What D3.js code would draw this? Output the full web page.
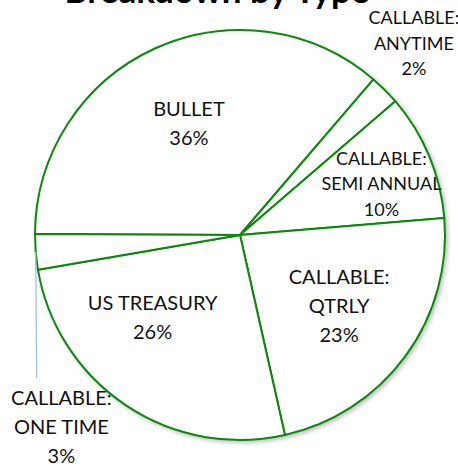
<!DOCTYPE html>
<html>
  <head>
    <meta charset="utf-8">
    <title>Breakdown by Type</title>
    <script src="https://cdn.jsdelivr.net/npm/d3@7"></script>
    <style>
      body { margin: 0; background: #fff; }
      svg { display: block; font-family: Lato, "Open Sans", sans-serif; }
      .label { font-size: 20px; fill: #111; }
      .label.small { font-size: 18px; }
      .title { font-size: 35px; font-weight: bold; fill: #000; }
    </style>
  </head>

  <body>
    <svg id="chart" width="458" height="468"></svg>

    <script>
      // data (share of holdings, %)
      categories = ["BULLET", "CALLABLE: ANYTIME", "CALLABLE: SEMI ANNUAL", "CALLABLE: QTRLY", "US TREASURY", "CALLABLE: ONE TIME"];
      shares = [36.2, 2.4, 10.0, 22.8, 25.8, 2.8];
      labelLines = [
        ["BULLET"],
        ["CALLABLE:", "ANYTIME"],
        ["CALLABLE:", "SEMI ANNUAL"],
        ["CALLABLE:", "QTRLY"],
        ["US TREASURY"],
        ["CALLABLE:", "ONE TIME"]
      ];

      // label layout: nudge from centroid, small font?
      labelNudge = [[0, 0], [87, -105], [28, -4], [0, -2], [-19, -20], [-56, 182]];
      labelSmall = [false, true, true, false, false, false];

      width = 458;
      height = 468;
      radius = 205;
      cx = 240;
      cy = 235;

      svg = d3.select("#chart");

      defs = svg.append("defs");
      shadow = defs.append("filter")
        .attr("id", "shadow")
        .attr("x", "-10%").attr("y", "-10%")
        .attr("width", "120%").attr("height", "120%");
      shadow.append("feDropShadow")
        .attr("dx", 2)
        .attr("dy", 2)
        .attr("stdDeviation", 2)
        .attr("flood-color", "#000")
        .attr("flood-opacity", 0.25);

      // title (mostly cropped off the top, as in the original)
      svg.append("text")
        .attr("class", "title")
        .attr("x", 217)
        .attr("y", 3)
        .attr("text-anchor", "middle")
        .text("Breakdown by Type");

      total = d3.sum(shares);
      pie = d3.pie()
        .sort(null)
        .value(function(d) { return d; })
        .startAngle(-89.7 * Math.PI / 180)
        .endAngle(270.3 * Math.PI / 180);

      arcs = pie(shares);

      arc = d3.arc()
        .innerRadius(0)
        .outerRadius(radius);

      labelArc = d3.arc()
        .innerRadius(radius * 0.6)
        .outerRadius(radius * 0.6);

      outerArc = d3.arc()
        .innerRadius(radius)
        .outerRadius(radius);

      pieGroup = svg.append("g")
        .attr("transform", "translate(" + cx + "," + cy + ")");

      pieGroup.append("g")
        .attr("filter", "url(#shadow)")
        .selectAll("path")
          .data(arcs)
        .enter().append("path")
          .attr("d", arc)
          .style("fill", "#fff")
          .style("stroke", "#0a870a")
          .style("stroke-width", 2)
          .style("stroke-linejoin", "round");

      // leader line for the thin "one time" slice
      oneTime = arcs[5];
      edge = outerArc.centroid(oneTime);
      labelGroup = svg.append("g")
        .attr("transform", "translate(" + cx + "," + cy + ")");

      labelGroup.append("line")
        .attr("x1", edge[0])
        .attr("y1", edge[1])
        .attr("x2", edge[0] + 1)
        .attr("y2", 378 - cy)
        .style("stroke", "#9dc3e6")
        .style("stroke-width", 1.3);

      // labels
      arcs.forEach(function(d, i) {
        small = labelSmall[i];
        lineH = small ? 25.5 : 29;
        capH = small ? 13.3 : 14.5;
        lines = labelLines[i].concat([Math.round(d.value / total * 100) + "%"]);
        c = labelArc.centroid(d);
        x = c[0] + labelNudge[i][0];
        y = c[1] + labelNudge[i][1];
        blockH = (lines.length - 1) * lineH + capH;
        y0 = y - blockH / 2 + capH;

        t = labelGroup.append("text")
          .attr("class", small ? "label small" : "label")
          .attr("text-anchor", "middle");
        t.selectAll("tspan")
          .data(lines)
        .enter().append("tspan")
          .attr("x", x)
          .attr("y", function(l, j) { return y0 + j * lineH; })
          .text(function(l) { return l; });
      });
    </script>
  </body>
</html>
